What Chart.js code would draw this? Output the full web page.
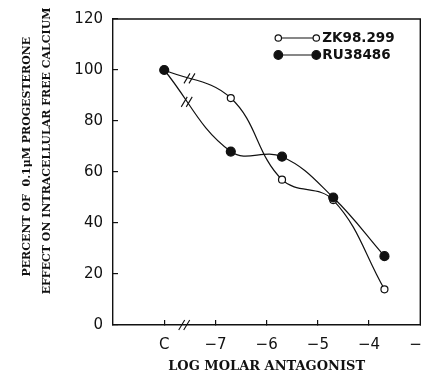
<!DOCTYPE html>
<html>
<head>
<meta charset="utf-8">
<script src="https://cdn.jsdelivr.net/npm/chart.js@4"></script>
<style>
  html, body { margin: 0; padding: 0; background: #fff; overflow: hidden; }
  #wrap { width: 421px; height: 377px; overflow: hidden; }
</style>
</head>
<body>
<div id="wrap"><canvas id="myChart" width="426" height="377"></canvas></div>
<script>
// log molar antagonist, C (control) is placed at -8
const doses = [-8, -6.7, -5.7, -4.7, -3.7];
const zk98299 = [100, 89, 57, 49, 14];
const ru38486 = [100, 68, 66, 50, 27];
const xTickValues = [-8, -7, -6, -5, -4, -3];
const xTickLabels = ["C", "\u22127", "\u22126", "\u22125", "\u22124", "\u22123"];
const yTickValues = [0, 20, 40, 60, 80, 100, 120];

const ink = "#111";

function toPoints(ys) {
  return doses.map((d, i) => ({ x: d, y: ys[i] }));
}

// point on the bezier between two line points
function bezierAt(a, b, t) {
  const u = 1 - t;
  const x = u*u*u*a.x + 3*u*u*t*a.cp2x + 3*u*t*t*b.cp1x + t*t*t*b.x;
  const y = u*u*u*a.y + 3*u*u*t*a.cp2y + 3*u*t*t*b.cp1y + t*t*t*b.y;
  return { x, y };
}

function breakMark(c, x, y) {
  c.beginPath();
  [-3, 2].forEach(dx => {
    c.moveTo(x + dx - 3, y + 5);
    c.lineTo(x + dx + 3, y - 5);
  });
  c.stroke();
}

const extras = {
  id: "extras",
  afterDatasetsDraw(chart) {
    const c = chart.ctx;
    const a = chart.chartArea;
    c.save();
    c.strokeStyle = ink;
    c.lineWidth = 1.4;
    // frame top and right
    c.beginPath();
    c.moveTo(a.left, a.top);
    c.lineTo(a.right, a.top);
    c.lineTo(a.right, a.bottom);
    c.stroke();

    // axis break between C and -7
    c.lineWidth = 1.1;
    breakMark(c, chart.scales.x.getPixelForValue(-7.6), a.bottom);
    chart.data.datasets.forEach((ds, i) => {
      const pts = chart.getDatasetMeta(i).data;
      const p = bezierAt(pts[0], pts[1], 0.35);
      breakMark(c, p.x, p.y);
    });

    // legend
    const rows = [
      { label: "ZK98.299", fill: "#fff", r: 3.2 },
      { label: "RU38486", fill: ink, r: 4.3 }
    ];
    c.font = "bold 13.5px 'DejaVu Sans'";
    c.textBaseline = "middle";
    rows.forEach((row, i) => {
      const y = a.top + 19 + i * 17;
      const x1 = a.right - 142, x2 = a.right - 104;
      c.lineWidth = 1.2;
      c.beginPath();
      c.moveTo(x1, y);
      c.lineTo(x2, y);
      c.stroke();
      [x1, x2].forEach(x => {
        c.beginPath();
        c.arc(x, y, row.r, 0, Math.PI * 2);
        c.fillStyle = row.fill;
        c.fill();
        c.stroke();
      });
      c.fillStyle = ink;
      c.fillText(row.label, x2 + 6, y + 0.5);
    });
    c.restore();
  }
};

new Chart(document.getElementById("myChart"), {
  type: "line",
  data: {
    datasets: [
      {
        label: "RU38486",
        data: toPoints(ru38486),
        borderColor: ink,
        borderWidth: 1.2,
        pointRadius: 4.5,
        pointBackgroundColor: ink,
        pointBorderColor: ink,
        tension: 0.4
      },
      {
        label: "ZK98.299",
        data: toPoints(zk98299),
        borderColor: ink,
        borderWidth: 1.2,
        pointRadius: 3.5,
        pointBorderWidth: 1.2,
        pointBackgroundColor: "#fff",
        pointBorderColor: ink,
        tension: 0.4
      }
    ]
  },
  options: {
    responsive: false,
    animation: false,
    events: [],
    layout: { padding: { top: 19, left: 0, right: 1, bottom: 0 } },
    plugins: { legend: { display: false }, tooltip: { enabled: false } },
    scales: {
      x: {
        type: "linear",
        min: -9,
        max: -3,
        afterBuildTicks(scale) {
          scale.ticks = xTickValues.map(v => ({ value: v }));
        },
        afterFit(scale) {
          scale.height = 52;
          scale.paddingLeft = 0;
          scale.paddingRight = 0;
        },
        border: { color: ink, width: 1.4 },
        grid: { drawOnChartArea: false, tickLength: -5, color: ink, lineWidth: 1.2 },
        ticks: {
          color: ink,
          padding: 16,
          maxRotation: 0,
          autoSkip: false,
          font: { family: "'DejaVu Sans'", size: 15 },
          callback: (v) => xTickLabels[xTickValues.indexOf(v)]
        },
        title: {
          display: true,
          text: "LOG MOLAR ANTAGONIST",
          color: ink,
          font: { family: "'DejaVu Serif'", size: 13, weight: "bold" },
          padding: { top: 0, bottom: 3 }
        }
      },
      y: {
        min: 0,
        max: 120,
        afterBuildTicks(scale) {
          scale.ticks = yTickValues.map(v => ({ value: v }));
        },
        afterFit(scale) {
          scale.width = 113;
          scale.paddingTop = 0;
          scale.paddingBottom = 0;
        },
        border: { color: ink, width: 1.4 },
        grid: { drawOnChartArea: false, tickLength: -5, color: ink, lineWidth: 1.2 },
        ticks: {
          color: ink,
          padding: 15,
          font: { family: "'DejaVu Sans'", size: 15 }
        },
        title: {
          display: true,
          text: ["        PERCENT OF  0.1\u03bcM PROGESTERONE", "           EFFECT ON INTRACELLULAR FREE CALCIUM"],
          color: ink,
          font: { family: "'DejaVu Serif'", size: 11, weight: "bold", lineHeight: 1.8 },
          padding: { top: 17, bottom: 0 }
        }
      }
    }
  },
  plugins: [extras]
});
</script>
</body>
</html>
